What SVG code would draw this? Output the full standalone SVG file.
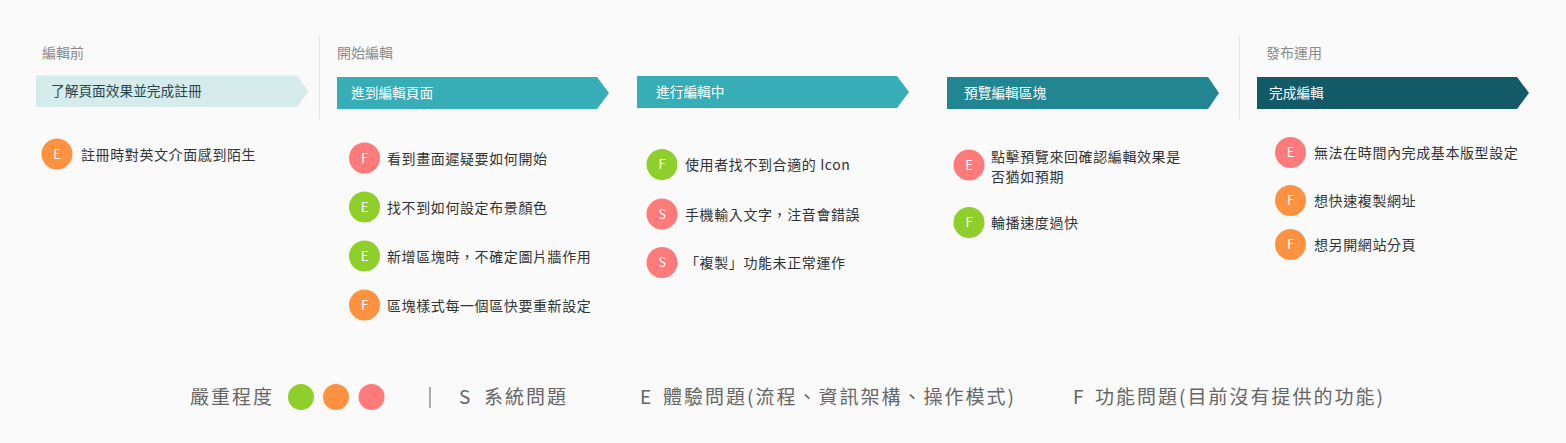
<svg xmlns="http://www.w3.org/2000/svg" width="1566" height="443" viewBox="0 0 1566 443">
<style>
text{font-family:"Noto Sans CJK TC","Noto Sans",sans-serif}
.phase{font-size:14px;fill:#8a8a8a}
.lbl{font-size:13.7px;fill:#ffffff}
.item{font-size:14px;fill:#333333;letter-spacing:0.6px}
.ltr{font-size:13px;fill:#ffffff;text-anchor:middle}
.leg{font-size:19px;fill:#666666;letter-spacing:2px}
.div{stroke:#dde8e9;stroke-width:1}
.g{fill:#8fcf2c}.o{fill:#ff9240}.r{fill:#ff7b7b}
</style>
<rect width="1566" height="443" fill="#fafafa"/>
<g id="dividers">
<line class="div" x1="319.5" y1="36" x2="319.5" y2="119"/>
<line class="div" x1="1239.5" y1="36" x2="1239.5" y2="119"/>
</g>
<g id="phases">
<text class="phase" x="42" y="58">編輯前</text>
<text class="phase" x="337" y="58">開始編輯</text>
<text class="phase" x="1266" y="58">發布運用</text>
</g>
<g id="step1">
<polygon points="36,75.5 297,75.5 308.5,91.2 297,107 36,107" fill="#d6ebeb"/>
<text class="lbl" x="51" y="96" style="fill:#1f4750">了解頁面效果並完成註冊</text>
</g>
<g id="step2">
<polygon points="337,77 597,77 609,93 597,109 337,109" fill="#37adb7"/>
<text class="lbl" x="351" y="98">進到編輯頁面</text>
</g>
<g id="step3">
<polygon points="637,76 897,76 909,92 897,108 637,108" fill="#37adb7"/>
<text class="lbl" x="656" y="97">進行編輯中</text>
</g>
<g id="step4">
<polygon points="947,77 1208,77 1219,93 1208,109 947,109" fill="#218592"/>
<text class="lbl" x="964" y="98">預覽編輯區塊</text>
</g>
<g id="step5">
<polygon points="1257,77 1517,77 1529,93 1517,109 1257,109" fill="#135a69"/>
<text class="lbl" x="1269" y="98">完成編輯</text>
</g>
<g id="col1">
<circle class="o" cx="57" cy="154" r="15.5"/><text class="ltr" x="57" y="158.5">E</text>
<text class="item" x="81" y="160">註冊時對英文介面感到陌生</text>
</g>
<g id="col2">
<circle class="r" cx="364.5" cy="158" r="15.5"/><text class="ltr" x="364.5" y="162.5">F</text>
<text class="item" x="387" y="163.5">看到畫面遲疑要如何開始</text>
<circle class="g" cx="364.5" cy="207" r="15.5"/><text class="ltr" x="364.5" y="211.5">E</text>
<text class="item" x="387" y="212.5">找不到如何設定布景顏色</text>
<circle class="g" cx="364.5" cy="256" r="15.5"/><text class="ltr" x="364.5" y="260.5">E</text>
<text class="item" x="387" y="261.5">新增區塊時，不確定圖片牆作用</text>
<circle class="o" cx="364.5" cy="305" r="15.5"/><text class="ltr" x="364.5" y="309.5">F</text>
<text class="item" x="387" y="310.5">區塊樣式每一個區快要重新設定</text>
</g>
<g id="col3">
<circle class="g" cx="662" cy="164.5" r="15.5"/><text class="ltr" x="662" y="169">F</text>
<text class="item" x="685" y="170">使用者找不到合適的 Icon</text>
<circle class="r" cx="662" cy="214" r="15.5"/><text class="ltr" x="662" y="218.5">S</text>
<text class="item" x="685" y="219.5">手機輸入文字，注音會錯誤</text>
<circle class="r" cx="662" cy="262.5" r="15.5"/><text class="ltr" x="662" y="267">S</text>
<text class="item" x="685" y="268">「複製」功能未正常運作</text>
</g>
<g id="col4">
<circle class="r" cx="969" cy="165" r="15.5"/><text class="ltr" x="969" y="169.5">E</text>
<text class="item" x="991" y="162">點擊預覽來回確認編輯效果是</text>
<text class="item" x="991" y="182">否猶如預期</text>
<circle class="g" cx="969" cy="222.5" r="15.5"/><text class="ltr" x="969" y="227">F</text>
<text class="item" x="991" y="228">輪播速度過快</text>
</g>
<g id="col5">
<circle class="r" cx="1290.5" cy="152.5" r="15.5"/><text class="ltr" x="1290.5" y="157">E</text>
<text class="item" x="1314" y="158">無法在時間內完成基本版型設定</text>
<circle class="o" cx="1290.5" cy="200.5" r="15.5"/><text class="ltr" x="1290.5" y="205">F</text>
<text class="item" x="1314" y="206">想快速複製網址</text>
<circle class="o" cx="1290.5" cy="244.5" r="15.5"/><text class="ltr" x="1290.5" y="249">F</text>
<text class="item" x="1314" y="250">想另開網站分頁</text>
</g>
<g id="legend">
<text class="leg" x="190" y="404">嚴重程度</text>
<circle class="g" cx="301" cy="397" r="13"/>
<circle class="o" cx="336" cy="397" r="13"/>
<circle class="r" cx="371.5" cy="397" r="13"/>
<line x1="430" y1="387" x2="430" y2="408" stroke="#777" stroke-width="1.2"/>
<text class="leg" x="459" y="404">S</text>
<text class="leg" x="484" y="404">系統問題</text>
<text class="leg" x="640" y="404">E</text>
<text class="leg" x="663" y="404">體驗問題(流程、資訊架構、操作模式)</text>
<text class="leg" x="1073" y="404">F</text>
<text class="leg" x="1095" y="404">功能問題(目前沒有提供的功能)</text>
</g>
</svg>
